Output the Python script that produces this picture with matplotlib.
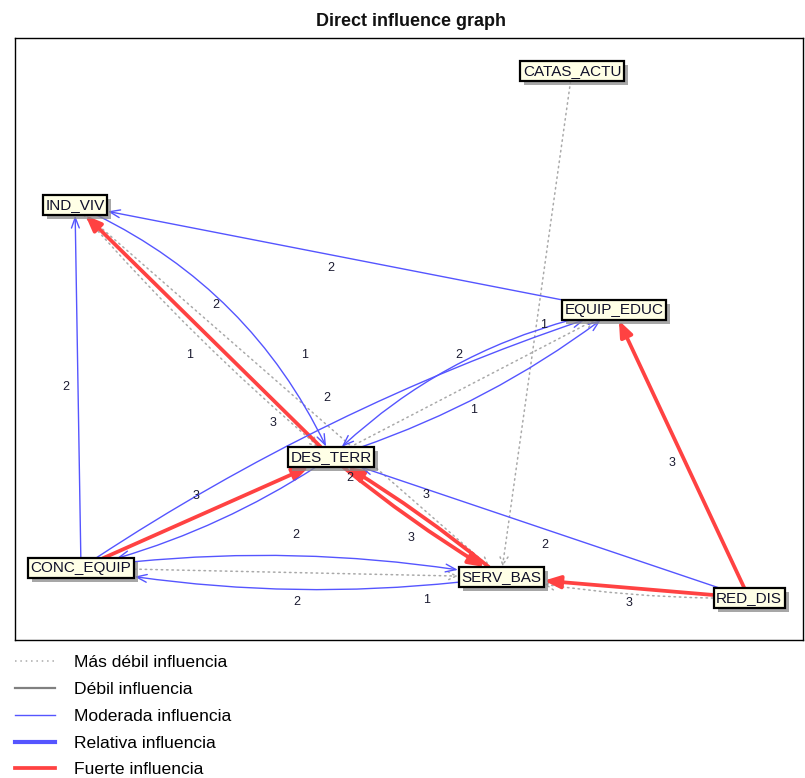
import numpy as np
import matplotlib
matplotlib.use("Agg")
import matplotlib.pyplot as plt
from matplotlib.patches import Rectangle, FancyArrowPatch
from matplotlib.lines import Line2D

plt.rcParams['font.family'] = ['Liberation Sans', 'DejaVu Sans']

# node layout (pixel units of the graph frame)
node_names = ["CATAS_ACTU", "IND_VIV", "EQUIP_EDUC", "DES_TERR", "CONC_EQUIP", "SERV_BAS", "RED_DIS"]
node_x = [572, 75, 614, 331, 81, 501, 749]
node_y = [71, 205, 310, 457, 568, 577, 598]

# edges: source, target, influence level (0 = mas debil ... 4 = fuerte), curvature
edge_src = ["EQUIP_EDUC", "CONC_EQUIP", "DES_TERR", "IND_VIV", "IND_VIV", "IND_VIV",
            "CONC_EQUIP", "CONC_EQUIP", "DES_TERR", "CONC_EQUIP", "SERV_BAS", "CONC_EQUIP",
            "DES_TERR", "SERV_BAS", "RED_DIS", "RED_DIS", "RED_DIS", "RED_DIS",
            "CATAS_ACTU", "DES_TERR", "EQUIP_EDUC", "DES_TERR"]
edge_dst = ["IND_VIV", "IND_VIV", "IND_VIV", "DES_TERR", "DES_TERR", "SERV_BAS",
            "EQUIP_EDUC", "DES_TERR", "CONC_EQUIP", "SERV_BAS", "CONC_EQUIP", "SERV_BAS",
            "SERV_BAS", "DES_TERR", "DES_TERR", "EQUIP_EDUC", "SERV_BAS", "SERV_BAS",
            "SERV_BAS", "EQUIP_EDUC", "DES_TERR", "EQUIP_EDUC"]
edge_level = [2, 2, 4, 2, 0, 0,
              2, 4, 2, 2, 2, 0,
              4, 4, 2, 4, 4, 0,
              0, 2, 2, 0]
edge_rad = [0, 0, 0, -0.19, 0.04, 0,
            -0.07, 0, -0.09, -0.08, -0.08, 0,
            0.04, 0.04, 0, 0, 0, -0.05,
            0, 0.09, 0.15, 0]

# value labels: edge index, text, fraction along edge, side offset
label_edge = [0, 1, 2, 3, 4, 5, 5, 6, 7, 9, 10, 11, 12, 13, 12, 14, 15, 16, 18, 19]
label_text = ["2", "2", "3", "2", "1", "1", "2", "2", "3", "2", "2", "1", "3", "3", "2", "2", "3", "3", "1", "1"]
label_t = [0.52, 0.50, 0.18, 0.475, 0.52, 0.48, 0.56, 0.73, 0.49, 0.51, 0.485, 0.825,
           0.48, 0.46, 0.13, 0.477, 0.487, 0.48, 0.50, 0.463]
label_off = [-13, -12, -16.5, -27.7, 26, -37.6, -20, -27, -19, -38, -29, 25,
             -24, -20, 6, -15, -12.5, -15, -7, 24]

legend_labels = ["Más débil influencia", "Débil influencia", "Moderada influencia",
                 "Relativa influencia", "Fuerte influencia"]

# line style per level
level_style = {
    0: dict(color="#a9a9a9", lw=1.1, ls=(0, (1, 2.5))),
    1: dict(color="#808080", lw=1.6, ls="-"),
    2: dict(color="#5555ff", lw=1.0, ls="-"),
    3: dict(color="#5555ff", lw=3.0, ls="-"),
    4: dict(color="#ff4242", lw=2.7, ls="-"),
}
level_arrow = {
    0: "->,head_length=0.6,head_width=0.3",
    1: "->,head_length=0.6,head_width=0.3",
    2: "->,head_length=0.75,head_width=0.28",
    3: "-|>,head_length=0.8,head_width=0.35",
    4: "-|>,head_length=0.95,head_width=0.38",
}

W, H = 805, 778
fig = plt.figure(figsize=(W / 100, H / 100), dpi=100)
fl, ft, fr, fb = 15, 38, 803, 640
ax = fig.add_axes([fl / W, 1 - fb / H, (fr - fl) / W, (fb - ft) / H])
ax.set_xlim(fl, fr)
ax.set_ylim(fb, ft)
ax.set_xticks([])
ax.set_yticks([])
for s in ax.spines.values():
    s.set_color("black")
    s.set_linewidth(1.0)

fig.text(0.511, 1 - 22 / H, "Direct influence graph", ha="center", va="center",
         fontsize=13, fontweight="bold", color="#111111")

pos = {n: (x, y) for n, x, y in zip(node_names, node_x, node_y)}

# node texts first, so the boxes can be sized from them
texts = {}
for n in node_names:
    x, y = pos[n]
    texts[n] = ax.text(x, y, n, ha="center", va="center", fontsize=11,
                       color="#10102a", zorder=6)

fig.canvas.draw()
renderer = fig.canvas.get_renderer()
inv = ax.transData.inverted()
boxes = {}
for n in node_names:
    bb = texts[n].get_window_extent(renderer)
    (x0, y0), (x1, y1) = inv.transform([[bb.x0, bb.y0], [bb.x1, bb.y1]])
    xa, xb = min(x0, x1) - 2.5, max(x0, x1) + 2.5
    ya, yb = min(y0, y1) - 3, max(y0, y1) + 3
    shadow = Rectangle((xa + 4, ya + 4), xb - xa, yb - ya, facecolor="#8a8a8a",
                       edgecolor="none", alpha=0.75, zorder=4)
    ax.add_patch(shadow)
    rect = Rectangle((xa, ya), xb - xa, yb - ya, facecolor="#ffffe6",
                     edgecolor="black", lw=1.6, zorder=5)
    ax.add_patch(rect)
    boxes[n] = rect

for s, d, lev, rad in zip(edge_src, edge_dst, edge_level, edge_rad):
    st = level_style[lev]
    arr = FancyArrowPatch(pos[s], pos[d], patchA=boxes[s], patchB=boxes[d],
                          shrinkA=1, shrinkB=1, connectionstyle=f"arc3,rad={rad}",
                          arrowstyle=level_arrow[lev], mutation_scale=10,
                          color=st["color"], lw=st["lw"], linestyle=st["ls"],
                          zorder=2 if lev == 0 else 3)
    ax.add_patch(arr)

for ei, txt, t, off in zip(label_edge, label_text, label_t, label_off):
    a = np.array(pos[edge_src[ei]], dtype=float)
    b = np.array(pos[edge_dst[ei]], dtype=float)
    d = b - a
    n = np.array([-d[1], d[0]]) / np.hypot(*d)
    p = a + t * d + off * n
    ax.text(p[0], p[1], txt, ha="center", va="center", fontsize=9,
            color="#1a1a30", zorder=7)

handles = [Line2D([], [], color=level_style[k]["color"], lw=level_style[k]["lw"],
                  ls=level_style[k]["ls"]) for k in range(5)]
fig.legend(handles, legend_labels, loc="upper left", bbox_to_anchor=(15 / W, 1 - 655 / H),
           frameon=False, fontsize=12.6, handlelength=2.3, handletextpad=1.1,
           labelspacing=0.66, borderpad=0, borderaxespad=0)

fig.savefig("out.png", dpi=100)
